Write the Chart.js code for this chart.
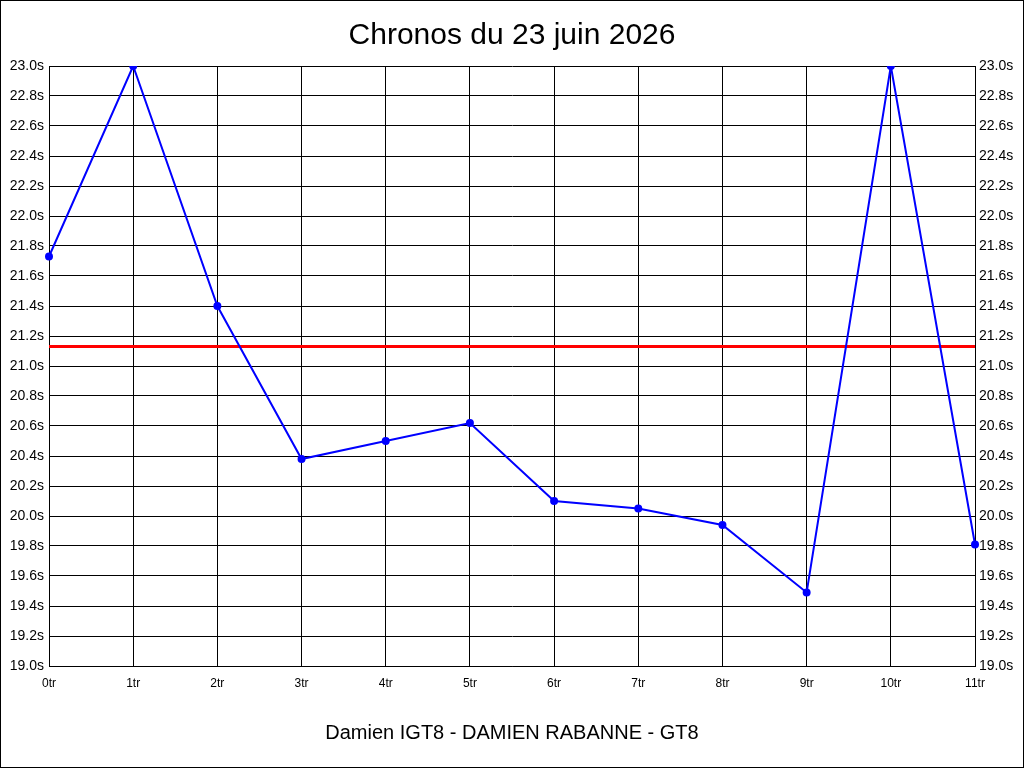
<!DOCTYPE html>
<html>
<head>
<meta charset="utf-8">
<script src="https://cdn.jsdelivr.net/npm/chart.js@4"></script>
<style>
  html, body { margin: 0; padding: 0; background: #fff; }
  canvas { display: block; }
</style>
</head>
<body>
<canvas id="chronoChart" width="1024" height="768"></canvas>
<script>
// lap labels and times (seconds)
const laps = ["0tr", "1tr", "2tr", "3tr", "4tr", "5tr", "6tr", "7tr", "8tr", "9tr", "10tr", "11tr"];
const lapTimes = [21.73, 23.0, 21.4, 20.38, 20.5, 20.62, 20.1, 20.05, 19.94, 19.49, 23.0, 19.81];
// red reference line
const refTimes = [21.13, 21.13, 21.13, 21.13, 21.13, 21.13, 21.13, 21.13, 21.13, 21.13, 21.13, 21.13];
const yMin = 19.0;
const yMax = 23.0;
const yStep = 0.2;

const FONT = "'Liberation Sans', Arial, sans-serif";

// thin black frame around the whole picture
const framePlugin = {
  id: "frame",
  afterDraw(chart) {
    const ctx = chart.ctx;
    ctx.save();
    ctx.strokeStyle = "#000";
    ctx.lineWidth = 1;
    ctx.strokeRect(0.5, 0.5, chart.width - 1, chart.height - 1);
    ctx.restore();
  },
};

const yTicks = {
  stepSize: yStep,
  color: "#000",
  font: { family: FONT, size: 14 },
  callback: function (v) {
    return Number(v).toFixed(1) + "s";
  },
};

new Chart(document.getElementById("chronoChart").getContext("2d"), {
  type: "line",
  data: {
    labels: laps,
    datasets: [
      {
        label: "Chronos",
        data: lapTimes,
        borderColor: "#0000ff",
        backgroundColor: "#0000ff",
        borderWidth: 2,
        pointRadius: 3,
        pointHoverRadius: 3,
        tension: 0,
        order: 1,
      },
      {
        label: "Référence",
        data: refTimes,
        borderColor: "#ff0000",
        borderWidth: 3,
        pointRadius: 0,
        tension: 0,
        order: 2,
      },
    ],
  },
  options: {
    responsive: false,
    animation: false,
    devicePixelRatio: 1,
    layout: { padding: { left: 1, right: 1, top: 0, bottom: 0 } },
    plugins: {
      legend: { display: false },
      tooltip: { enabled: false },
      title: {
        display: true,
        text: "Chronos du 23 juin 2026",
        color: "#000",
        font: { family: FONT, size: 30, weight: "normal" },
        padding: { top: 18, bottom: 12 },
      },
      subtitle: {
        display: true,
        position: "bottom",
        text: "Damien IGT8 - DAMIEN RABANNE - GT8",
        color: "#000",
        font: { family: FONT, size: 20, weight: "normal" },
        padding: { top: 25, bottom: 23 },
      },
    },
    scales: {
      x: {
        grid: { color: "#000", lineWidth: 1, drawTicks: false },
        border: { color: "#000" },
        ticks: {
          color: "#000",
          font: { family: FONT, size: 12 },
          padding: 10,
          maxRotation: 0,
          autoSkip: false,
        },
        afterFit(scale) { scale.height = 30; },
      },
      y: {
        position: "left",
        min: yMin,
        max: yMax,
        grid: { color: "#000", lineWidth: 1, drawTicks: false },
        border: { color: "#000" },
        ticks: Object.assign({ padding: 5 }, yTicks),
        afterFit(scale) { scale.width = 48; },
      },
      y2: {
        position: "right",
        min: yMin,
        max: yMax,
        grid: { display: false, drawTicks: false },
        border: { color: "#000" },
        ticks: Object.assign({ padding: 4 }, yTicks),
        afterFit(scale) { scale.width = 48; },
      },
    },
  },
  plugins: [framePlugin],
});
</script>
</body>
</html>
